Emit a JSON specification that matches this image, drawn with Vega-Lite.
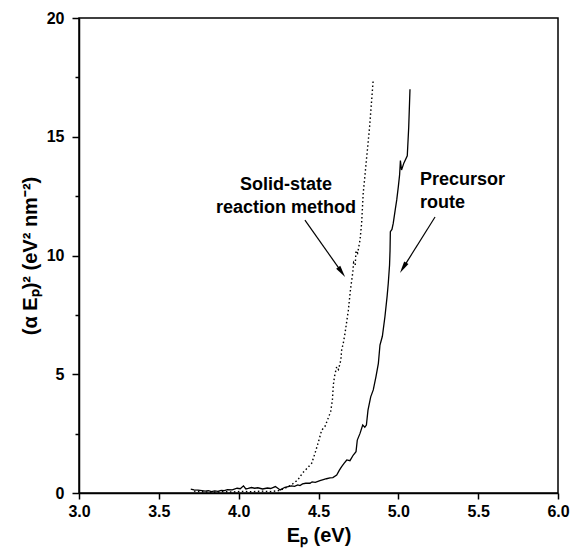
{
  "$schema": "https://vega.github.io/schema/vega-lite/v6.json",
  "width": 479,
  "height": 475,
  "autosize": {"type": "none"},
  "padding": {"left": 79, "top": 18, "right": 14, "bottom": 57},
  "background": "white",
  "config": {
    "view": {"stroke": "black", "strokeWidth": 1.5},
    "font": "Liberation Sans",
    "axis": {
      "domainColor": "black", "domainWidth": 1.5,
      "tickColor": "black", "tickWidth": 1.5,
      "labelFont": "Liberation Sans", "labelFontWeight": "bold", "labelFontSize": 16, "labelColor": "black",
      "titleFont": "Liberation Sans", "titleFontWeight": "bold", "titleFontSize": 20, "titleColor": "black",
      "grid": false
    }
  },
  "datasets": {
    "solid": [
      {"e": 3.70, "v": 0.16}, {"e": 3.72, "v": 0.13}, {"e": 3.745, "v": 0.12}, {"e": 3.77, "v": 0.10},
      {"e": 3.79, "v": 0.08}, {"e": 3.81, "v": 0.10}, {"e": 3.83, "v": 0.06}, {"e": 3.85, "v": 0.09},
      {"e": 3.87, "v": 0.07}, {"e": 3.89, "v": 0.11}, {"e": 3.91, "v": 0.10}, {"e": 3.93, "v": 0.14},
      {"e": 3.96, "v": 0.13}, {"e": 3.99, "v": 0.20}, {"e": 4.01, "v": 0.18}, {"e": 4.03, "v": 0.30},
      {"e": 4.045, "v": 0.17}, {"e": 4.06, "v": 0.19}, {"e": 4.08, "v": 0.23}, {"e": 4.10, "v": 0.20},
      {"e": 4.12, "v": 0.22}, {"e": 4.15, "v": 0.17}, {"e": 4.18, "v": 0.21}, {"e": 4.20, "v": 0.19},
      {"e": 4.23, "v": 0.27}, {"e": 4.245, "v": 0.20}, {"e": 4.26, "v": 0.13}, {"e": 4.29, "v": 0.24},
      {"e": 4.31, "v": 0.27}, {"e": 4.33, "v": 0.30}, {"e": 4.35, "v": 0.28}, {"e": 4.37, "v": 0.34},
      {"e": 4.384, "v": 0.31}, {"e": 4.40, "v": 0.38}, {"e": 4.42, "v": 0.41}, {"e": 4.447, "v": 0.41},
      {"e": 4.46, "v": 0.47}, {"e": 4.48, "v": 0.45}, {"e": 4.509, "v": 0.52}, {"e": 4.53, "v": 0.56},
      {"e": 4.55, "v": 0.60}, {"e": 4.572, "v": 0.64}, {"e": 4.59, "v": 0.65}, {"e": 4.614, "v": 0.76},
      {"e": 4.63, "v": 0.95}, {"e": 4.645, "v": 1.11}, {"e": 4.66, "v": 1.25}, {"e": 4.677, "v": 1.39},
      {"e": 4.697, "v": 1.36}, {"e": 4.718, "v": 1.60}, {"e": 4.735, "v": 1.74}, {"e": 4.743, "v": 2.23},
      {"e": 4.76, "v": 2.51}, {"e": 4.777, "v": 2.86}, {"e": 4.79, "v": 2.77}, {"e": 4.80, "v": 2.86},
      {"e": 4.81, "v": 3.49}, {"e": 4.827, "v": 4.05}, {"e": 4.843, "v": 4.34}, {"e": 4.86, "v": 4.90},
      {"e": 4.875, "v": 5.46}, {"e": 4.885, "v": 6.23}, {"e": 4.90, "v": 6.60}, {"e": 4.916, "v": 7.42},
      {"e": 4.93, "v": 8.30}, {"e": 4.937, "v": 8.83}, {"e": 4.945, "v": 9.60}, {"e": 4.948, "v": 10.2},
      {"e": 4.95, "v": 11.0}, {"e": 4.96, "v": 11.1}, {"e": 4.968, "v": 11.35}, {"e": 4.98, "v": 11.9},
      {"e": 4.99, "v": 12.34}, {"e": 5.00, "v": 12.9}, {"e": 5.008, "v": 13.4}, {"e": 5.013, "v": 14.0},
      {"e": 5.02, "v": 13.6}, {"e": 5.035, "v": 13.9}, {"e": 5.056, "v": 14.2}, {"e": 5.065, "v": 15.4},
      {"e": 5.073, "v": 17.0}
    ],
    "dotted": [
      {"e": 3.72, "v": 0.08}, {"e": 3.78, "v": 0.05}, {"e": 3.84, "v": 0.03}, {"e": 3.90, "v": 0.06},
      {"e": 3.96, "v": 0.04}, {"e": 4.02, "v": 0.07}, {"e": 4.08, "v": 0.05}, {"e": 4.14, "v": 0.08},
      {"e": 4.20, "v": 0.06}, {"e": 4.25, "v": 0.10}, {"e": 4.29, "v": 0.20}, {"e": 4.33, "v": 0.34},
      {"e": 4.37, "v": 0.55}, {"e": 4.40, "v": 0.84}, {"e": 4.43, "v": 1.05}, {"e": 4.457, "v": 1.25},
      {"e": 4.478, "v": 1.67}, {"e": 4.50, "v": 2.16}, {"e": 4.52, "v": 2.65}, {"e": 4.54, "v": 2.79},
      {"e": 4.56, "v": 3.14}, {"e": 4.576, "v": 3.42}, {"e": 4.587, "v": 3.92}, {"e": 4.593, "v": 4.55},
      {"e": 4.60, "v": 4.90}, {"e": 4.614, "v": 5.32}, {"e": 4.625, "v": 5.20}, {"e": 4.64, "v": 5.60},
      {"e": 4.645, "v": 6.02}, {"e": 4.655, "v": 6.30}, {"e": 4.666, "v": 6.72}, {"e": 4.687, "v": 7.70},
      {"e": 4.70, "v": 8.55}, {"e": 4.714, "v": 9.25}, {"e": 4.72, "v": 9.70}, {"e": 4.73, "v": 9.60},
      {"e": 4.735, "v": 10.2}, {"e": 4.745, "v": 10.1}, {"e": 4.76, "v": 10.65}, {"e": 4.77, "v": 11.35},
      {"e": 4.78, "v": 12.62}, {"e": 4.79, "v": 13.3}, {"e": 4.80, "v": 14.02}, {"e": 4.81, "v": 14.7},
      {"e": 4.82, "v": 15.42}, {"e": 4.833, "v": 16.55}, {"e": 4.843, "v": 17.42}
    ],
    "arrows": [
      {"x": 4.415, "y": 11.49, "x2": 4.645, "y2": 9.30, "angle": 145},
      {"x": 5.23, "y": 11.62, "x2": 5.030, "y2": 9.48, "angle": 212}
    ],
    "labelsCenter": [
      {"x": 4.296, "y": 12.97, "text": "Solid-state"},
      {"x": 4.296, "y": 12.00, "text": "reaction method"}
    ],
    "labelsLeft": [
      {"x": 5.136, "y": 13.18, "text": "Precursor"},
      {"x": 5.136, "y": 12.21, "text": "route"}
    ]
  },
  "layer": [
    {
      "data": {"name": "solid"},
      "mark": {"type": "line", "color": "black", "strokeWidth": 1.3},
      "encoding": {
        "x": {
          "field": "e", "type": "quantitative",
          "scale": {"domain": [3, 6], "nice": false, "zero": false},
          "axis": {
            "title": "Eₚ (eV)",
            "values": [3, 3.25, 3.5, 3.75, 4, 4.25, 4.5, 4.75, 5, 5.25, 5.5, 5.75, 6],
            "labelExpr": "abs(datum.value*2 - round(datum.value*2)) < 0.001 ? format(datum.value, '.1f') : ''",
            "tickSize": {"condition": {"test": "abs(datum.value*2 - round(datum.value*2)) > 0.001", "value": 4}, "value": 6},
            "labelPadding": 4,
            "titlePadding": 6,
            "labelFlush": false
          }
        },
        "y": {
          "field": "v", "type": "quantitative",
          "scale": {"domain": [0, 20], "nice": false},
          "axis": {
            "title": "(α Eₚ)² (eV² nm⁻²)",
            "values": [0, 2.5, 5, 7.5, 10, 12.5, 15, 17.5, 20],
            "labelExpr": "datum.value % 5 === 0 ? format(datum.value, 'd') : ''",
            "tickSize": {"condition": {"test": "datum.value % 5 !== 0", "value": 4}, "value": 7},
            "labelPadding": 8,
            "titlePadding": 6,
            "labelFlush": false
          }
        }
      }
    },
    {
      "data": {"name": "dotted"},
      "mark": {"type": "line", "color": "black", "strokeWidth": 1.4, "strokeDash": [1.5, 2.5]},
      "encoding": {
        "x": {"field": "e", "type": "quantitative"},
        "y": {"field": "v", "type": "quantitative"}
      }
    },
    {
      "data": {"name": "arrows"},
      "mark": {"type": "rule", "color": "black", "strokeWidth": 1.2},
      "encoding": {
        "x": {"field": "x", "type": "quantitative"},
        "y": {"field": "y", "type": "quantitative"},
        "x2": {"field": "x2"},
        "y2": {"field": "y2"}
      }
    },
    {
      "data": {"name": "arrows"},
      "mark": {"type": "point", "filled": true, "color": "black", "opacity": 1, "shape": "M0,-1L0.42,1L-0.42,1Z", "size": 144},
      "encoding": {
        "x": {"field": "x2", "type": "quantitative"},
        "y": {"field": "y2", "type": "quantitative"},
        "angle": {"field": "angle", "type": "quantitative", "scale": null}
      }
    },
    {
      "data": {"name": "labelsCenter"},
      "mark": {"type": "text", "align": "center", "baseline": "middle", "font": "Liberation Sans", "fontWeight": "bold", "fontSize": 18, "color": "black"},
      "encoding": {
        "x": {"field": "x", "type": "quantitative"},
        "y": {"field": "y", "type": "quantitative"},
        "text": {"field": "text"}
      }
    },
    {
      "data": {"name": "labelsLeft"},
      "mark": {"type": "text", "align": "left", "baseline": "middle", "font": "Liberation Sans", "fontWeight": "bold", "fontSize": 18, "color": "black"},
      "encoding": {
        "x": {"field": "x", "type": "quantitative"},
        "y": {"field": "y", "type": "quantitative"},
        "text": {"field": "text"}
      }
    }
  ]
}
